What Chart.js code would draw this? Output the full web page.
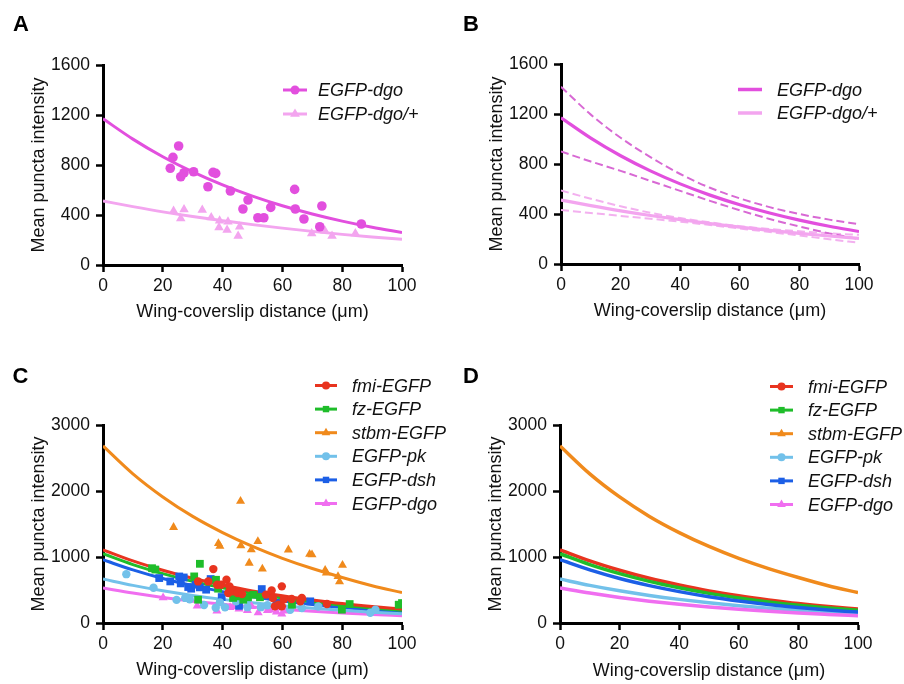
<!DOCTYPE html>
<html>
<head>
<meta charset="utf-8">
<script src="https://cdn.jsdelivr.net/npm/chart.js@4.4.0/dist/chart.umd.min.js"></script>
<style>
  body { margin: 0; background: #fff; }
  #wrap { position: relative; width: 904px; height: 684px; }
  canvas { position: absolute; }
</style>
</head>
<body>
<div id="wrap">
  <canvas id="cA" width="452" height="340" style="left:0;top:0"></canvas>
  <canvas id="cB" width="452" height="340" style="left:452px;top:0"></canvas>
  <canvas id="cC" width="452" height="344" style="left:0;top:340px"></canvas>
  <canvas id="cD" width="452" height="344" style="left:452px;top:340px"></canvas>
</div>
<script>
var FONT = '"Liberation Sans", Arial, Helvetica, sans-serif';

// shared axes
var curveX = [0, 10, 20, 30, 40, 50, 60, 70, 80, 90, 100];
var xTicks = [0, 20, 40, 60, 80, 100];
var yTicksAB = [0, 400, 800, 1200, 1600];
var yTicksCD = [0, 1000, 2000, 3000];

// panel A/B: EGFP-dgo and EGFP-dgo/+
var dgoX = [22.5, 23.4, 25.3, 26.0, 27.1, 30.3, 35.1, 36.8, 37.7, 42.6, 46.8, 48.5, 51.8, 53.8, 56.1, 64.1, 64.3, 67.2, 72.5, 73.2, 86.4];
var dgoY = [774, 861, 952, 706, 738, 746, 626, 741, 733, 592, 448, 520, 378, 378, 461, 605, 448, 368, 306, 472, 328];
var hetX = [23.6, 26.0, 27.1, 33.2, 36.2, 39.0, 38.8, 41.8, 41.5, 45.2, 45.7, 69.8, 74.2, 76.6, 84.4];
var hetY = [432, 373, 445, 440, 381, 354, 301, 346, 280, 232, 306, 253, 275, 232, 253];
var dgoFit = [1170, 1007, 866, 745, 641, 551, 474, 408, 351, 302, 260];
var hetFit = [512, 467, 425, 388, 355, 323, 295, 269, 245, 224, 205];
var dgoUpper = [1418, 1195, 1010, 855, 720, 610, 525, 455, 400, 355, 318];
var dgoLower = [900, 820, 745, 665, 585, 505, 430, 360, 300, 245, 200];
var hetUpper = [588, 522, 462, 410, 368, 333, 303, 280, 262, 246, 233];
var hetLower = [432, 408, 385, 362, 338, 312, 284, 256, 228, 198, 170];

// panel C/D: six constructs
var fmiX = [31.8, 35.2, 36.9, 38.2, 39.5, 41.3, 42.3, 41.9, 43.5, 45.0, 46.5, 54.5, 56.4, 56.8, 57.5, 58.7, 59.8, 59.8, 60.5, 63.1, 66.5, 66.0, 74.9];
var fmiY = [630, 630, 817, 580, 580, 656, 555, 454, 480, 455, 440, 430, 494, 378, 252, 277, 555, 252, 360, 363, 378, 330, 287];
var fzX = [16.4, 17.5, 30.5, 32.4, 31.8, 37.8, 38.5, 43.5, 44.7, 46.9, 48.5, 50.3, 52.5, 63.2, 79.9, 82.5, 98.9, 100];
var fzY = [830, 810, 706, 897, 353, 655, 520, 380, 403, 353, 390, 428, 390, 277, 202, 287, 277, 302];
var stbmX = [23.6, 38.6, 39.1, 46.0, 46.1, 48.9, 49.6, 51.8, 53.3, 62.0, 69.1, 69.9, 74.3, 74.7, 78.6, 79.1, 80.1];
var stbmY = [1450, 1205, 1165, 1845, 1172, 908, 1112, 1235, 819, 1109, 1044, 1034, 800, 760, 705, 625, 875];
var pkX = [7.8, 16.9, 24.6, 27.5, 29.0, 33.8, 37.7, 39.1, 40.8, 44.5, 48.3, 52.8, 55.0, 62.6, 66.5, 72.0, 89.4, 91.1];
var pkY = [740, 535, 350, 380, 360, 272, 230, 313, 237, 330, 240, 240, 270, 200, 227, 250, 155, 201];
var dshX = [18.8, 22.5, 25.5, 27.0, 26.0, 28.5, 29.5, 31.0, 32.4, 34.5, 36.0, 39.7, 45.5, 53.1, 58.0, 69.3];
var dshY = [681, 630, 705, 690, 600, 545, 520, 580, 540, 505, 666, 393, 260, 514, 300, 328];
var dgoCX = [20.1, 31.5, 38.1, 42.5, 43.6, 45.5, 48.3, 49.7, 51.9, 55.0, 55.9, 58.0, 59.8, 61.0];
var dgoCY = [383, 260, 185, 235, 252, 215, 192, 250, 156, 190, 200, 170, 136, 185];

var fmiFit = [1109, 941, 799, 677, 575, 485, 412, 350, 295, 250, 212];
var fzFit = [1049, 885, 748, 631, 533, 449, 379, 320, 270, 228, 192];
var stbmFit = [2683, 2260, 1910, 1615, 1370, 1160, 980, 825, 690, 565, 460];
var pkFit = [666, 570, 488, 418, 358, 306, 262, 224, 192, 164, 141];
var dshFit = [958, 804, 674, 566, 475, 398, 334, 280, 235, 197, 166];
var dgoCFit = [530, 453, 387, 331, 283, 242, 207, 177, 151, 130, 111];

var namesAB = ['EGFP-dgo', 'EGFP-dgo/+'];
var namesCD = ['fmi-EGFP', 'fz-EGFP', 'stbm-EGFP', 'EGFP-pk', 'EGFP-dsh', 'EGFP-dgo'];

var colDgo = '#e24fde', colHet = '#f3a5ef';
var colsCD = ['#e8341f', '#1fbd2a', '#f08a1c', '#72c1ea', '#1c5fe6', '#f06ef0'];
var stylesCD = ['circle', 'rect', 'triangle', 'circle', 'rect', 'triangle'];

function pts(xs, ys) {
  return xs.map(function (x, i) { return {x: x, y: ys[i]}; });
}

function scatterSet(xs, ys, color, style, r) {
  return {data: pts(xs, ys), showLine: false, pointStyle: style, pointRadius: r,
    pointBackgroundColor: color, pointBorderWidth: 0, order: 0};
}

function curveSet(ys, color, w, dash) {
  return {data: pts(curveX, ys), showLine: true, pointRadius: 0, borderColor: color,
    borderWidth: w, borderDash: dash || [], cubicInterpolationMode: 'monotone', fill: false, order: 1};
}

function marker(ctx, style, x, y, r) {
  ctx.beginPath();
  if (style === 'circle') {
    ctx.arc(x, y, r, 0, Math.PI * 2);
  } else if (style === 'rect') {
    var s = r * 0.8;
    ctx.rect(x - s, y - s, 2 * s, 2 * s);
  } else if (style === 'triangle') {
    r = r * 1.25;
    ctx.moveTo(x, y - r);
    ctx.lineTo(x + r * 0.866, y + r * 0.5);
    ctx.lineTo(x - r * 0.866, y + r * 0.5);
    ctx.closePath();
  }
  ctx.fill();
}

// panel letter + legend drawn over the chart
function overlay(conf) {
  return {
    id: 'overlay',
    afterDraw: function (chart) {
      var ctx = chart.ctx;
      ctx.save();
      ctx.font = 'bold 22px ' + FONT;
      ctx.fillStyle = '#000';
      ctx.textBaseline = 'alphabetic';
      ctx.textAlign = 'left';
      ctx.fillText(conf.letter, conf.lx, conf.ly);
      conf.labels.forEach(function (lab, i) {
        var y = conf.y0 + i * conf.dy;
        ctx.strokeStyle = conf.colors[i];
        ctx.lineWidth = conf.lw;
        ctx.beginPath();
        ctx.moveTo(conf.x0, y);
        ctx.lineTo(conf.x1, y);
        ctx.stroke();
        if (conf.styles) {
          ctx.fillStyle = conf.colors[i];
          marker(ctx, conf.styles[i], (conf.x0 + conf.x1) / 2, y, conf.r);
        }
        ctx.font = 'italic 18px ' + FONT;
        ctx.fillStyle = '#111';
        ctx.textBaseline = 'middle';
        ctx.fillText(lab, conf.tx, y + 1);
      });
      ctx.restore();
    }
  };
}

function plain(v) { return String(v); }

function xScale(titlePad) {
  return {
    type: 'linear', min: 0, max: 100,
    afterBuildTicks: function (s) { s.ticks = xTicks.map(function (v) { return {value: v}; }); },
    afterFit: function (s) { s.height = 60; s.paddingLeft = 0; s.paddingRight = 0; },
    grid: {drawOnChartArea: false, drawTicks: true, tickLength: 7, tickWidth: 2.5, tickColor: '#000'},
    border: {display: true, color: '#000', width: 3},
    ticks: {color: '#111', font: {family: FONT, size: 17.5}, padding: 4, maxRotation: 0, autoSkip: false, callback: plain},
    title: {display: true, text: 'Wing-coverslip distance (\u03bcm)', color: '#111',
      font: {family: FONT, size: 18}, padding: {top: 0, bottom: titlePad}}
  };
}

function yScale(max, ticks) {
  return {
    type: 'linear', min: 0, max: max,
    afterBuildTicks: function (s) { s.ticks = ticks.map(function (v) { return {value: v}; }); },
    afterFit: function (s) { s.width = 80; s.paddingTop = 0; s.paddingBottom = 0; },
    grid: {drawOnChartArea: false, drawTicks: true, tickLength: 7, tickWidth: 2.5, tickColor: '#000'},
    border: {display: true, color: '#000', width: 3},
    ticks: {color: '#111', font: {family: FONT, size: 17.5}, padding: 6, autoSkip: false, callback: plain},
    title: {display: true, text: 'Mean puncta intensity', color: '#111',
      font: {family: FONT, size: 18}, padding: {top: 5, bottom: 0}}
  };
}

function makeChart(id, datasets, pad, yMax, yTicks, titlePad, conf) {
  return new Chart(document.getElementById(id).getContext('2d'), {
    type: 'scatter',
    data: {datasets: datasets},
    options: {
      responsive: false,
      animation: false,
      events: [],
      layout: {padding: pad},
      plugins: {legend: {display: false}, tooltip: {enabled: false}},
      scales: {x: xScale(titlePad), y: yScale(yMax, yTicks)}
    },
    plugins: [overlay(conf)]
  });
}

// A
makeChart('cA', [
  scatterSet(dgoX, dgoY, colDgo, 'circle', 4.8),
  scatterSet(hetX, hetY, colHet, 'triangle', 5.5),
  curveSet(dgoFit, colDgo, 3),
  curveSet(hetFit, colHet, 3)
], {left: 23, right: 50, top: 65, bottom: 15}, 1600, yTicksAB, 2.2,
  {letter: 'A', lx: 13, ly: 31, labels: namesAB, colors: [colDgo, colHet], styles: ['circle', 'triangle'],
   x0: 283, x1: 307, y0: 90, dy: 24, lw: 3, r: 4.5, tx: 318});

// B
makeChart('cB', [
  curveSet(dgoFit, colDgo, 3.2),
  curveSet(hetFit, colHet, 3.2),
  curveSet(dgoUpper, '#d869d4', 2, [8, 4]),
  curveSet(dgoLower, '#d869d4', 2, [8, 4]),
  curveSet(hetUpper, '#f3b0ef', 2, [8, 4]),
  curveSet(hetLower, '#f3b0ef', 2, [8, 4])
], {left: 29, right: 45, top: 64, bottom: 16}, 1600, yTicksAB, 2.2,
  {letter: 'B', lx: 11, ly: 31, labels: namesAB, colors: [colDgo, colHet], styles: null,
   x0: 286, x1: 310, y0: 89.5, dy: 23.5, lw: 3.5, r: 0, tx: 325});

// C
var setsC = [];
[[fmiX, fmiY], [fzX, fzY], [stbmX, stbmY], [pkX, pkY], [dshX, dshY], [dgoCX, dgoCY]].forEach(function (p, i) {
  var r = stylesCD[i] === 'rect' ? 5.5 : (stylesCD[i] === 'triangle' ? 5.2 : 4.2);
  setsC.push(scatterSet(p[0], p[1], colsCD[i], stylesCD[i], r));
});
var fitsCD = [fmiFit, fzFit, stbmFit, pkFit, dshFit, dgoCFit];
fitsCD.forEach(function (f, i) { setsC.push(curveSet(f, colsCD[i], 3)); });
makeChart('cC', setsC, {left: 23, right: 50, top: 85, bottom: 1}, 3000, yTicksCD, 2.6,
  {letter: 'C', lx: 12.5, ly: 43, labels: namesCD, colors: colsCD, styles: stylesCD,
   x0: 315, x1: 337, y0: 45.5, dy: 23.6, lw: 3, r: 4, tx: 352});

// D
var setsD = [];
for (var i = fitsCD.length - 1; i >= 0; i--) setsD.push(curveSet(fitsCD[i], colsCD[i], 3.5));
makeChart('cD', setsD, {left: 28, right: 46, top: 85, bottom: 1}, 3000, yTicksCD, 1.4,
  {letter: 'D', lx: 11, ly: 43, labels: namesCD, colors: colsCD, styles: stylesCD,
   x0: 318, x1: 341, y0: 46.5, dy: 23.6, lw: 3, r: 4, tx: 356});
</script>
</body>
</html>
